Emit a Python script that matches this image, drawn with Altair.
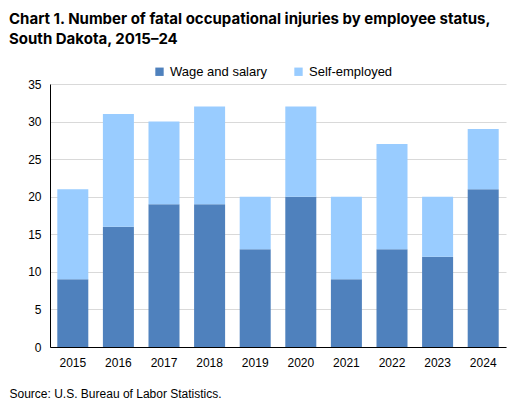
import pandas as pd
import altair as alt

years = ["2015", "2016", "2017", "2018", "2019", "2020", "2021", "2022", "2023", "2024"]
wage_salary = [9, 16, 19, 19, 13, 20, 9, 13, 12, 21]
self_employed = [12, 15, 11, 13, 7, 12, 11, 14, 8, 8]
statuses = ["Wage and salary", "Self-employed"]
colors = ["#4f81bd", "#99ccff"]

rows = []
for y, w, s in zip(years, wage_salary, self_employed):
    rows.append({"Year": y, "Status": statuses[0], "Count": w, "Order": 0})
    rows.append({"Year": y, "Status": statuses[1], "Count": s, "Order": 1})
df = pd.DataFrame(rows)

chart = alt.Chart(df).mark_bar().encode(
    x=alt.X("Year:O", scale=alt.Scale(paddingInner=0.32, paddingOuter=0.16),
            axis=alt.Axis(title="Source: U.S. Bureau of Labor Statistics.", labelAngle=0,
                          labelPadding=10, ticks=False, domainColor="#000000",
                          titleX=-41, titleY=41, titleAlign="left", titleAnchor="start",
                          titleFontWeight="normal", titleFontSize=12, titleColor="#000000",
                          titleFont="Liberation Sans")),
    y=alt.Y("Count:Q", stack="zero", scale=alt.Scale(domain=[0, 35]),
            axis=alt.Axis(title=None, values=[0, 5, 10, 15, 20, 25, 30, 35], ticks=False,
                          labelPadding=9, domainColor="#000000", gridColor="#d9d9d9")),
    color=alt.Color("Status:N", scale=alt.Scale(domain=statuses, range=colors), sort=statuses,
                    legend=alt.Legend(title=None, orient="none", direction="horizontal",
                                      legendX=103, legendY=-19, symbolType="square",
                                      symbolSize=70, symbolStrokeWidth=0, columnPadding=24,
                                      labelFontSize=13, labelOffset=4)),
    order=alt.Order("Order:Q"),
).properties(
    width=456, height=263,
    autosize=alt.AutoSizeParams(type="none"),
    padding={"left": 42, "top": 76, "right": 14, "bottom": 52},
    title=alt.TitleParams(["Chart 1. Number of fatal occupational injuries by employee status,",
                           "South Dakota, 2015\u201324"],
                          anchor="start", dx=-41, offset=18, fontSize=15, font="Inter",
                          fontWeight="bold", color="#000000", lineHeight=20, frame="group"),
).configure_view(stroke=None).configure_axis(
    labelFont="Liberation Sans", labelFontSize=12, labelColor="#000000"
).configure_legend(labelFont="Liberation Sans", labelColor="#000000")

chart.save("out.html", embed_options={"renderer": "svg", "actions": False})
